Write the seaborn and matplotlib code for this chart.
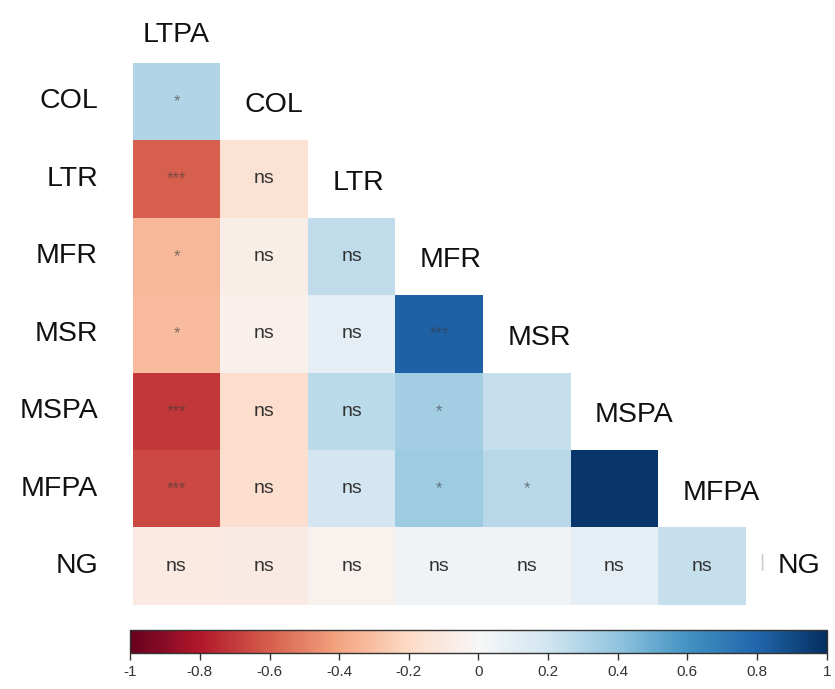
import numpy as np
import pandas as pd
import matplotlib
matplotlib.use("Agg")
import matplotlib.pyplot as plt
import seaborn as sns

# variables (rows / columns of the lower triangle)
row_names = ["COL", "LTR", "MFR", "MSR", "MSPA", "MFPA", "NG"]
col_names = ["LTPA", "COL", "LTR", "MFR", "MSR", "MSPA", "MFPA"]

# correlation estimates, one list per row
r_col = [0.30]
r_ltr = [-0.60, -0.15]
r_mfr = [-0.33, -0.07, 0.25]
r_msr = [-0.32, -0.05, 0.10, 0.82]
r_mspa = [-0.71, -0.18, 0.27, 0.35, 0.24]
r_mfpa = [-0.66, -0.17, 0.18, 0.36, 0.28, 0.97]
r_ng = [-0.09, -0.08, -0.04, 0.04, 0.04, 0.10, 0.24]

# significance marks
s_col = ["*"]
s_ltr = ["***", "ns"]
s_mfr = ["*", "ns", "ns"]
s_msr = ["*", "ns", "ns", "***"]
s_mspa = ["***", "ns", "ns", "*", ""]
s_mfpa = ["***", "ns", "ns", "*", "*", ""]
s_ng = ["ns", "ns", "ns", "ns", "ns", "ns", "ns"]

cbar_ticks = [-1, -0.8, -0.6, -0.4, -0.2, 0, 0.2, 0.4, 0.6, 0.8, 1]


def main():
    n = len(row_names)
    r_rows = [r_col, r_ltr, r_mfr, r_msr, r_mspa, r_mfpa, r_ng]
    s_rows = [s_col, s_ltr, s_mfr, s_msr, s_mspa, s_mfpa, s_ng]

    vals = np.full((n, n), np.nan)
    marks = np.full((n, n), "", dtype=object)
    for i in range(n):
        vals[i, :len(r_rows[i])] = r_rows[i]
        marks[i, :len(s_rows[i])] = s_rows[i]
    df = pd.DataFrame(vals, index=row_names, columns=col_names)
    mask = np.isnan(vals)

    sns.set_style("white")
    plt.rcParams["font.family"] = ["Liberation Sans", "DejaVu Sans"]

    fig = plt.figure(figsize=(8.35, 6.89), dpi=100)
    ax = fig.add_axes([0.159, 0.122, 0.734, 0.787])
    cax = fig.add_axes([0.156, 0.052, 0.834, 0.033])

    sns.heatmap(
        df, mask=mask, cmap="RdBu", vmin=-1, vmax=1,
        annot=marks, fmt="", annot_kws={"fontsize": 14},
        cbar_ax=cax, cbar_kws={"orientation": "horizontal", "ticks": cbar_ticks},
        ax=ax, linewidths=0,
    )

    # restyle annotations: "ns" in dark grey, stars small and muted
    for t in ax.texts:
        if t.get_text().startswith("*"):
            t.set_fontsize(12)
            t.set_color("#3a3a3a")
            t.set_alpha(0.6)
        else:
            t.set_color("#333333")

    ax.set_xticks([])
    ax.set_xlabel("")
    ax.set_ylabel("")
    ax.set_yticklabels(row_names, rotation=0, fontsize=20.5, color="#111111")
    ax.tick_params(axis="y", length=0, pad=25)

    # column names along the diagonal, corrplot style
    ax.text(0.5, -0.36, col_names[0], ha="center", va="center",
            fontsize=20.5, color="#111111")
    for j in range(1, len(col_names)):
        ax.text(j + 0.28, j - 1 + 0.55, col_names[j], ha="left", va="center",
                fontsize=20.5, color="#111111")
    # last variable (NG) sits next to its own row
    ax.text(7.19, 6.45, "|", ha="center", va="center", fontsize=14, color="#cccccc")
    ax.text(7.36, 6.5, "NG", ha="left", va="center", fontsize=20.5, color="#111111")

    cbar = ax.collections[0].colorbar
    cbar.ax.tick_params(labelsize=11, length=5, width=1, colors="#333333")
    cbar.ax.set_xticklabels([f"{v:g}" for v in cbar_ticks])
    cbar.outline.set_edgecolor("#333333")
    cbar.outline.set_linewidth(1)

    fig.savefig("out.png", dpi=100)
    plt.close(fig)


if __name__ == "__main__":
    main()
